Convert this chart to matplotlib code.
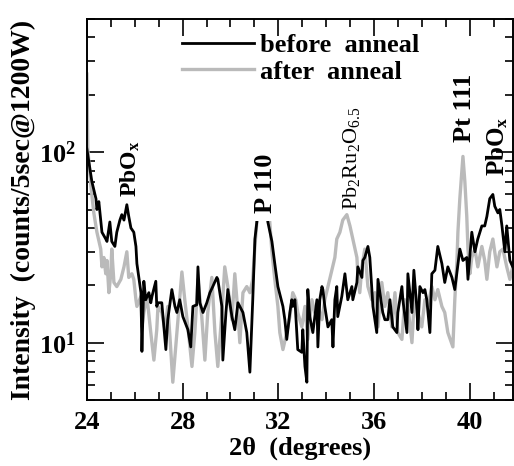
"""XRD scan before/after anneal, log intensity."""

import matplotlib
matplotlib.use('Agg')
import matplotlib.pyplot as plt
from matplotlib.ticker import LogLocator, FixedLocator, MultipleLocator, NullFormatter

plt.rcParams['font.family'] = ['Liberation Serif', 'DejaVu Serif']
plt.rcParams['font.weight'] = 'bold'

# before anneal (black)
before_x = [24.00, 24.21, 24.38, 24.42, 24.50, 24.63, 24.79, 24.84, 24.96, 25.04,
            25.17, 25.25, 25.38, 25.46, 25.55, 25.67, 25.75, 25.84, 25.96, 26.05,
            26.09, 26.17, 26.26, 26.30, 26.38, 26.46, 26.59, 26.67, 26.72, 26.88,
            26.92, 26.97, 27.13, 27.30, 27.38, 27.55, 27.68, 27.76, 27.88, 28.01,
            28.22, 28.34, 28.43, 28.59, 28.64, 28.72, 28.85, 29.01, 29.14, 29.26,
            29.43, 29.47, 29.64, 29.68, 29.81, 29.89, 30.06, 30.18, 30.31, 30.52,
            30.68, 30.81, 30.93, 31.02, 31.10, 31.31, 31.56, 31.73, 31.85, 31.98,
            32.15, 32.19, 32.27, 32.35, 32.48, 32.56, 32.60, 32.69, 32.77, 32.81,
            32.98, 33.02, 33.11, 33.19, 33.23, 33.31, 33.44, 33.61, 33.65, 33.73,
            33.82, 33.86, 33.94, 34.07, 34.23, 34.28, 34.36, 34.44, 34.48, 34.65,
            34.78, 34.90, 35.07, 35.11, 35.28, 35.32, 35.49, 35.53, 35.61, 35.74,
            35.82, 35.90, 35.95, 36.11, 36.16, 36.24, 36.36, 36.45, 36.57, 36.66,
            36.78, 36.95, 36.99, 37.16, 37.20, 37.37, 37.41, 37.58, 37.66, 37.78,
            37.83, 37.91, 38.04, 38.12, 38.20, 38.33, 38.41, 38.54, 38.66, 38.83,
            38.95, 39.08, 39.25, 39.37, 39.58, 39.71, 39.87, 39.92, 40.08, 40.21,
            40.33, 40.50, 40.62, 40.71, 40.83, 40.96, 41.04, 41.17, 41.25, 41.34,
            41.46, 41.54, 41.67, 41.79]
before_y = [104, 70, 57, 50, 55, 38, 35, 34, 43, 34,
            32, 38, 44, 47, 44, 53, 46, 40, 38, 32,
            26, 22, 18.3, 9.0, 21, 16.8, 18.3, 16.2, 17.5, 21,
            15.5, 16.2, 16.2, 9.2, 13.2, 19, 15.5, 14.4, 16.8, 13.7,
            11.7, 9.5, 15.5, 15.8, 25, 16.2, 14.4, 16.2, 18.3, 19.7,
            22, 21.5, 15.5, 8.1, 14.4, 19, 13.7, 11.7, 16.2, 14.4,
            11.3, 7.0, 16.8, 35, 43, 100, 43, 34, 26, 19.7,
            16.2, 15.5, 13.2, 10.4, 14.4, 16.8, 15.5, 16.8, 11.3, 9.2,
            8.9, 11.7, 7.5, 6.2, 19, 13.7, 11.3, 16.8, 9.5, 16.8,
            19.7, 19, 15.5, 12.1, 13.2, 9.5, 16.8, 19.7, 13.7, 17.5,
            23, 16.8, 19.7, 16.8, 20.7, 25, 22, 27, 28, 32,
            28, 19.7, 15.5, 11.3, 21.5, 18.3, 14.4, 13.2, 13.2, 16.8,
            12.1, 11.3, 14.4, 19.7, 16.8, 11.3, 23, 14.4, 24, 15.5,
            11.7, 19.7, 18.3, 19, 16.8, 11.3, 23, 24, 32, 26,
            20.7, 25, 22, 19, 31, 27, 28, 21.5, 38, 30,
            35, 41, 41, 46, 57, 60, 52, 48, 50, 41,
            30, 41, 27, 25]

# after anneal (grey)
after_x = [24.00, 24.04, 24.17, 24.29, 24.42, 24.58, 24.63, 24.71, 24.79, 24.84,
           24.92, 25.00, 25.04, 25.13, 25.25, 25.42, 25.55, 25.67, 25.75, 25.88,
           25.96, 26.05, 26.09, 26.26, 26.30, 26.38, 26.51, 26.67, 26.80, 26.92,
           26.97, 27.13, 27.26, 27.38, 27.47, 27.59, 27.76, 27.88, 27.97, 28.09,
           28.22, 28.39, 28.51, 28.64, 28.80, 28.93, 29.05, 29.22, 29.35, 29.47,
           29.64, 29.76, 29.89, 30.06, 30.18, 30.31, 30.39, 30.52, 30.68, 30.81,
           30.93, 31.02, 31.10, 31.35, 31.64, 31.73, 31.85, 31.98, 32.06, 32.19,
           32.35, 32.48, 32.60, 32.73, 32.81, 32.98, 33.11, 33.23, 33.40, 33.52,
           33.65, 33.82, 33.94, 34.07, 34.23, 34.36, 34.44, 34.57, 34.69, 34.86,
           34.99, 35.11, 35.28, 35.32, 35.40, 35.49, 35.61, 35.74, 35.90, 36.03,
           36.16, 36.32, 36.45, 36.57, 36.74, 36.87, 36.99, 37.16, 37.28, 37.41,
           37.58, 37.70, 37.83, 37.99, 38.12, 38.24, 38.41, 38.54, 38.66, 38.83,
           38.95, 39.08, 39.29, 39.37, 39.46, 39.50, 39.58, 39.71, 39.79, 39.87,
           39.92, 40.00, 40.08, 40.21, 40.33, 40.50, 40.62, 40.71, 40.83, 40.96,
           41.13, 41.25, 41.38, 41.54, 41.67, 41.79]
after_y = [257, 104, 66, 48, 38, 31, 25, 28, 23, 27,
           18.3, 23, 31, 20.7, 19.7, 21.5, 25, 30, 22, 23,
           21.5, 16.8, 15.5, 17.5, 12.1, 14.4, 17.5, 11.3, 8.1, 11.7,
           15.5, 14.4, 11.7, 15.5, 10.8, 6.2, 11.3, 17.5, 23.5, 16.8,
           12.1, 7.5, 11.3, 21.5, 13.7, 8.1, 14.4, 22, 11.3, 7.5,
           14.4, 25, 19.7, 13.2, 23, 14.4, 10, 18.3, 19.7, 18.3,
           21.5, 32, 43, 100, 43, 30, 21.5, 15.5, 11.3, 9.2,
           11.3, 13.7, 18.3, 16.8, 14.4, 12.1, 15.5, 10.4, 16.8, 14.4,
           15.5, 13.2, 16.8, 19.7, 24, 28, 35, 38, 44, 47,
           41, 35, 28, 23, 18.3, 25, 31, 19.7, 16.8, 18.3,
           12.1, 20.7, 15.5, 18.3, 12.1, 18.3, 11.3, 10.4, 16.8, 15.5,
           10, 19, 14.4, 12.1, 16.8, 15.5, 19.7, 16.8, 19, 15.5,
           14.4, 11.3, 9.5, 16.8, 27, 38, 57, 95, 70, 46,
           31, 23, 28, 31, 25, 32, 27, 21.5, 30, 35,
           25, 30, 31, 25, 21.5, 25]

fig = plt.figure(figsize=(5.14, 4.66), dpi=100)
ax = fig.add_axes([0.169, 0.1416, 0.829, 0.8176])

ax.plot(after_x, after_y, color='#bababa', lw=2.4, label='after  anneal')
ax.plot(before_x, before_y, color='k', lw=2.0, label='before  anneal')

ax.set_yscale('log')
ax.set_xlim(24, 41.8)
ax.set_ylim(5, 500)

ax.xaxis.set_major_locator(MultipleLocator(4))
ax.xaxis.set_minor_locator(MultipleLocator(1))
ax.yaxis.set_major_locator(FixedLocator([10, 100]))
ax.yaxis.set_minor_locator(LogLocator(base=10, subs=range(2, 10)))
ax.yaxis.set_minor_formatter(NullFormatter())
ax.set_yticklabels([r'$\mathregular{10^{1}}$', r'$\mathregular{10^{2}}$'])

ax.tick_params(which='both', direction='in', top=True, right=True, labelsize=19, width=1.2)
ax.tick_params(which='major', length=12, pad=8)
ax.tick_params(which='minor', length=6)
for s in ax.spines.values():
    s.set_linewidth(1.4)

ax.set_xlabel('2θ  (degrees)', fontsize=19, fontweight='bold', labelpad=2)
ax.set_ylabel('Intensity  (counts/5sec@1200W)', fontsize=20, fontweight='bold', labelpad=2)

h, l = ax.get_legend_handles_labels()
ax.legend(h[::-1], l[::-1], loc='upper left', bbox_to_anchor=(0.223, 0.962),
          frameon=False, borderpad=0, borderaxespad=0, handlelength=2.75,
          handletextpad=0.2, labelspacing=0.12,
          prop={'family': 'Liberation Serif', 'weight': 'bold', 'size': 19})

lab = dict(rotation=90, ha='center', va='bottom', fontweight='bold')
ax.text(25.8, 58, r'PbO$\mathregular{_x}$', fontsize=17, **lab)
ax.text(31.48, 48, 'P 110', fontsize=19,
        bbox=dict(facecolor='white', edgecolor='none', pad=6), **lab)
ax.text(39.79, 113, 'Pt 111', fontsize=19, **lab)
ax.text(41.13, 75, r'PbO$\mathregular{_x}$', fontsize=18, **lab)
ax.text(35.07, 50, r'Pb$\mathregular{_2}$Ru$\mathregular{_2}$O$\mathregular{_{6.5}}$',
        rotation=90, ha='center', va='bottom', fontsize=16, fontweight='normal')

fig.savefig('out.png', dpi=100)
